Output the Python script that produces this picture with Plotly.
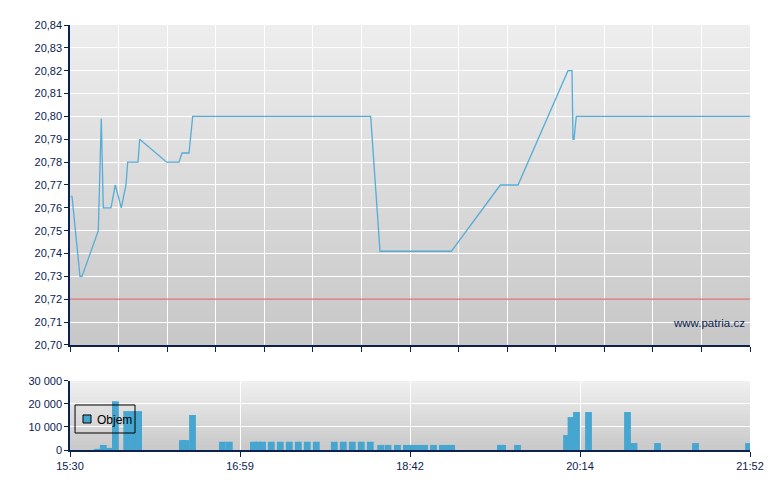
import numpy as np
import plotly.graph_objects as go

# axis anchors (labels sit at quarter positions, the time scale is not linear)
tick_labels = ["15:30", "16:59", "18:42", "20:14", "21:52"]

# price series
price_times = ["15:30:22", "15:31:03", "15:35:14", "15:36:17", "15:44:49", "15:46:23",
               "15:47:26", "15:51:28", "15:53:43", "15:56:51", "15:59:19", "16:00:12",
               "16:05:36", "16:06:29", "16:20:37", "16:27:04", "16:28:38", "16:32:18",
               "16:34:14", "18:18:11", "18:23:49", "19:04:21", "19:30:52", "19:40:27",
               "20:07:30", "20:09:40", "20:10:13", "20:10:45", "20:12:00", "21:52:00"]
price_values = [20.765, 20.765, 20.73, 20.73, 20.75, 20.799,
                20.76, 20.76, 20.77, 20.76, 20.77, 20.78,
                20.78, 20.79, 20.78, 20.78, 20.784, 20.784,
                20.80, 20.80, 20.741, 20.741, 20.77, 20.77,
                20.82, 20.82, 20.79, 20.79, 20.80, 20.80]
prev_close = 20.72

# volume series
vol_times = ["15:44:24", "15:47:26", "15:50:31", "15:53:46", "15:59:41", "16:02:59",
             "16:05:55", "16:28:50", "16:30:31", "16:34:08", "16:49:47", "16:53:24",
             "17:07:07", "17:09:54", "17:12:42", "17:17:58", "17:23:25", "17:28:52",
             "17:34:19", "17:39:46", "17:45:14", "17:56:08", "18:01:35", "18:07:02",
             "18:12:29", "18:17:56", "18:24:14", "18:28:40", "18:34:25", "18:39:49",
             "18:43:31", "18:46:59", "18:49:54", "18:54:43", "18:59:32", "19:02:01",
             "19:04:31", "19:30:55", "19:32:07", "19:40:11", "20:06:42", "20:09:08",
             "20:12:06", "20:18:54", "20:41:23", "20:45:08", "20:58:41", "21:20:35",
             "21:51:09"]
vol_values = [500, 2200, 900, 21200, 16900, 16900,
              16900, 4300, 4300, 15200, 3600, 3600,
              3600, 3600, 3600, 3600, 3600, 3600,
              3600, 3600, 3600, 3600, 3600, 3600,
              3600, 3600, 2200, 2200, 2200, 2200,
              2200, 2200, 2200, 2200, 2200, 2200,
              2200, 2200, 2200, 2200, 6500, 14300,
              16500, 16500, 16500, 3000, 3000, 3000,
              3000]
legend_label = "Objem"


def to_minutes(t):
    parts = [int(p) for p in t.split(":")]
    while len(parts) < 3:
        parts.append(0)
    return parts[0] * 60 + parts[1] + parts[2] / 60.0


anchor_min = [to_minutes(t) for t in tick_labels]
anchor_pos = [0, 25, 50, 75, 100]


def to_pos(times):
    return np.interp([to_minutes(t) for t in times], anchor_min, anchor_pos)


NAVY = "#0b2250"
BLUE = "#46a6cf"
FONT = "Liberation Sans, Arial, sans-serif"

fig = go.Figure()
fig.add_trace(go.Scatter(x=to_pos(price_times), y=price_values, mode="lines",
                         line=dict(color="#55acd6", width=1.3),
                         showlegend=False, xaxis="x", yaxis="y"))
fig.add_trace(go.Bar(x=to_pos(vol_times), y=vol_values, width=1.0,
                     marker=dict(color=BLUE, line=dict(width=0)),
                     name=legend_label, showlegend=False, xaxis="x2", yaxis="y2"))

# gradient backgrounds (stacked bands, each overlapping the one above)
shapes = []
for xref, yref, top, bot, n in [("x domain", "y domain", 238, 200, 40),
                                ("x2 domain", "y2 domain", 241, 201, 20)]:
    for i in range(n):
        c = int(round(top + (bot - top) * (i + 0.5) / n))
        shapes.append(dict(type="rect", xref=xref, yref=yref, x0=0, x1=1,
                           y0=1 - (i + 1) / n, y1=min(1, 1 - i / n + 0.5 / n),
                           fillcolor=f"rgb({c},{c},{c})", line=dict(width=0), layer="below"))
shapes.append(dict(type="line", xref="x domain", yref="y", x0=0, x1=1,
                   y0=prev_close, y1=prev_close,
                   line=dict(color="rgba(215,95,95,0.75)", width=1.5)))
# hand-drawn legend box
shapes.append(dict(type="rect", xref="paper", yref="paper", x0=0.0074, x1=0.0956,
                   y0=0.040, y1=0.1059, line=dict(color="black", width=1)))
shapes.append(dict(type="rect", xref="paper", yref="paper", x0=0.0191, x1=0.0309,
                   y0=0.0635, y1=0.0824, fillcolor=BLUE, line=dict(color="black", width=1)))

axis_common = dict(showline=True, linecolor=NAVY, linewidth=1.5, ticks="outside",
                   tickcolor=NAVY, tickfont=dict(family=FONT, size=11, color=NAVY),
                   gridcolor="white", gridwidth=1, zeroline=False)

fig.update_layout(
    width=772, height=482,
    margin=dict(l=62, r=30, t=17, b=40),
    paper_bgcolor="white", plot_bgcolor="white",
    separators=", ",
    font=dict(family=FONT, size=11, color=NAVY),
    shapes=shapes,
    showlegend=False,
    xaxis=dict(domain=[0, 1], anchor="y", range=[0, 100],
               tickvals=list(np.linspace(0, 100, 15)), showticklabels=False,
               ticklen=5, showgrid=True, **axis_common),
    yaxis=dict(domain=[0.2471, 1], anchor="x", range=[20.70, 20.84], dtick=0.01,
               tickformat=".2f", ticklen=4, showgrid=True, **axis_common),
    xaxis2=dict(domain=[0, 1], anchor="y2", range=[0, 100],
                tickvals=anchor_pos, ticktext=tick_labels, ticklen=5,
                showgrid=True, **axis_common),
    yaxis2=dict(domain=[0, 0.1624], anchor="x2", range=[0, 30000], dtick=10000,
                tickformat=",.0f", ticklen=4, showgrid=True, **axis_common),
    annotations=[
        dict(text="www.patria.cz", xref="paper", yref="paper",
             x=0.9955, y=0.299, xanchor="right", yanchor="middle",
             showarrow=False, font=dict(family=FONT, size=11.5, color=NAVY)),
        dict(text=legend_label, xref="paper", yref="paper",
             x=0.0368, y=0.0706, xanchor="left", yanchor="middle",
             showarrow=False, font=dict(family=FONT, size=12, color="black")),
    ],
)

fig.write_html("out.html")
